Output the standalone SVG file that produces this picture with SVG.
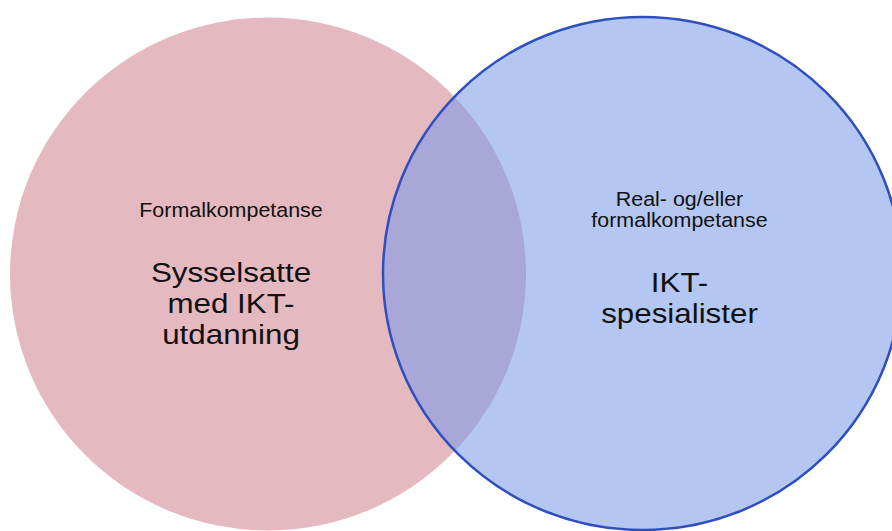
<svg xmlns="http://www.w3.org/2000/svg" width="892" height="531" viewBox="0 0 892 531">
  <style>
    .t { font-family: "Liberation Sans", Arial, sans-serif; fill: #111; text-anchor: middle; }
    .s { font-size: 19.5px; }
    .b { font-size: 28.5px; }
  </style>
  <rect width="892" height="531" fill="#ffffff"/>
  <g id="node-left">
    <ellipse cx="268" cy="274" rx="258" ry="256.5" fill="#e4b9c0"/>
  </g>
  <g id="node-right">
    <ellipse cx="642.5" cy="273.5" rx="259.5" ry="256.5" fill="#7799e9" fill-opacity="0.55" stroke="#2f4fbf" stroke-width="2.5"/>
  </g>
  <g id="labels-left" transform="translate(231,0) scale(1.1,1)">
    <text class="t s" x="0" y="217">Formalkompetanse</text>
    <text class="t b" x="0" y="282">Sysselsatte</text>
    <text class="t b" x="0" y="313">med IKT-</text>
    <text class="t b" x="0" y="344">utdanning</text>
  </g>
  <g id="labels-right" transform="translate(679.5,0) scale(1.1,1)">
    <text class="t s" x="0" y="206">Real- og/eller</text>
    <text class="t s" x="0" y="227">formalkompetanse</text>
    <text class="t b" x="0" y="292">IKT-</text>
    <text class="t b" x="0" y="323">spesialister</text>
  </g>
  <g id="connectors"></g>
</svg>
